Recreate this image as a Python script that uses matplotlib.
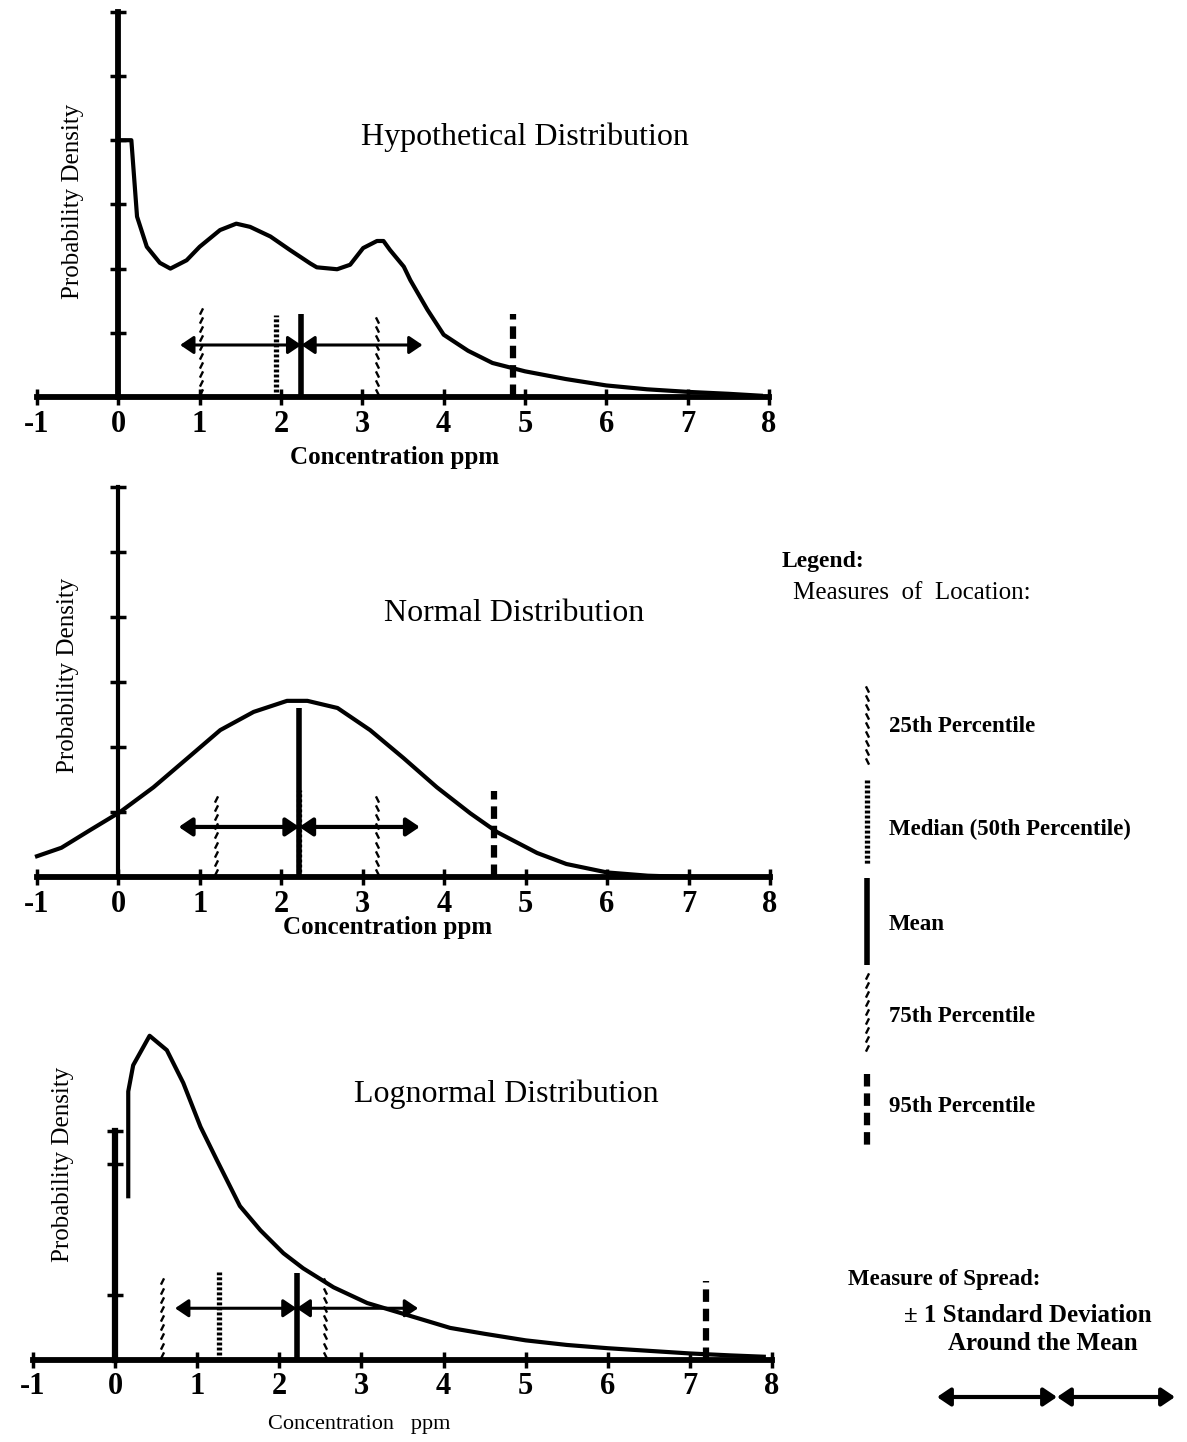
import numpy as np
import matplotlib
matplotlib.use("Agg")
from matplotlib import pyplot as plt

plt.rcParams['font.family'] = ['Liberation Serif', 'DejaVu Serif']

W = 1187
H = 1442

tick_vals = [-1, 0, 1, 2, 3, 4, 5, 6, 7, 8]

# hypothetical distribution
hyp_x = [0.04, 0.16, 0.23, 0.35, 0.51, 0.64, 0.84, 1.0, 1.25, 1.45, 1.62, 1.87, 2.11, 2.36, 2.44,
         2.69, 2.85, 3.01, 3.18, 3.26, 3.34, 3.51, 3.59, 3.8, 4.0, 4.3, 4.6, 5.0, 5.5, 6.0, 6.5,
         7.0, 7.5, 7.9]
hyp_y = [4.0, 4.0, 2.81, 2.34, 2.09, 2.0, 2.13, 2.34, 2.6, 2.7, 2.65, 2.5, 2.29, 2.08, 2.02,
         1.99, 2.06, 2.32, 2.43, 2.43, 2.29, 2.03, 1.82, 1.36, 0.97, 0.72, 0.53, 0.4, 0.28, 0.18,
         0.12, 0.08, 0.05, 0.02]
# 25th, median, mean, 75th, 95th
hyp_marks = [1.02, 1.94, 2.25, 3.18, 4.85]
hyp_heights = [1.39, 1.28, 1.3, 1.3, 1.3]
hyp_sd = 1.49

# normal distribution
norm_x = [-1.0, -0.7, -0.35, 0.02, 0.43, 0.85, 1.25, 1.66, 2.07, 2.32, 2.69, 3.09, 3.5, 3.91,
          4.32, 4.65, 5.14, 5.5, 6.0, 6.5, 7.0]
norm_y = [0.32, 0.45, 0.72, 1.0, 1.38, 1.83, 2.26, 2.54, 2.71, 2.71, 2.6, 2.26, 1.83, 1.38,
          0.98, 0.69, 0.37, 0.2, 0.07, 0.02, 0.0]
norm_marks = [1.2, 2.22, 2.22, 3.18, 4.61]
norm_heights = [1.34, 1.34, 2.6, 1.34, 1.32]
norm_sd = 1.48

# lognormal distribution
log_x = [0.16, 0.16, 0.22, 0.42, 0.63, 0.83, 1.04, 1.24, 1.52, 1.77, 2.05, 2.29, 2.66, 3.07,
         3.47, 4.08, 4.5, 5.0, 5.5, 6.0, 6.5, 7.0, 7.5, 7.9]
log_y = [2.5, 4.1, 4.5, 4.95, 4.73, 4.23, 3.56, 3.05, 2.35, 1.98, 1.63, 1.4, 1.11, 0.87,
         0.72, 0.49, 0.4, 0.3, 0.23, 0.18, 0.14, 0.1, 0.07, 0.05]
log_marks = [0.57, 1.26, 2.21, 2.56, 7.2]
log_heights = [1.33, 1.35, 1.33, 1.25, 1.2]
log_sd = 1.48

legend_labels = ['25th Percentile', 'Median (50th Percentile)', 'Mean',
                 '75th Percentile', '95th Percentile']


def place(xm1, x8, y0, yu, ylo, yhi, xlo=-1.45, xhi=8.45):
    ux = (x8 - xm1) / 9.0
    left = xm1 + (xlo + 1) * ux
    right = xm1 + (xhi + 1) * ux
    top = y0 - yhi * yu
    bottom = y0 - ylo * yu
    return [left / W, 1 - bottom / H, (right - left) / W, (bottom - top) / H], (xlo, xhi), (ylo, yhi)


def slanted(ax, x, h, lean, step=0.14, size=4.5, lw=1.7):
    pos = np.arange(0.08, h, step)
    mk = [(-0.5 * lean, -1), (0.5 * lean, 1)]
    ax.plot(np.full(len(pos), x), pos, ls='none', marker=mk, ms=size, mew=lw, color='black')


def draw_mark(ax, kind, x, h):
    if kind == 0:
        slanted(ax, x, h, 1)
    elif kind == 1:
        ax.plot([x, x], [0, h], color='black', lw=3.8, ls=(0, (0.55, 0.4)), solid_capstyle='butt')
    elif kind == 2:
        ax.plot([x, x], [0, h], color='black', lw=4, solid_capstyle='butt')
    elif kind == 3:
        slanted(ax, x, h, -1)
    else:
        ax.plot([x, x], [0, h], color='black', lw=4.5, ls=(0, (2.0, 1.1)), solid_capstyle='butt')


def spread_arrow(ax, mean, sd, y, lw=2.2):
    props = dict(arrowstyle='<|-|>,head_length=0.4,head_width=0.27', color='black', lw=lw,
                 shrinkA=0, shrinkB=0, mutation_scale=20)
    ax.annotate('', xy=(mean - sd, y), xytext=(mean, y), arrowprops=props)
    ax.annotate('', xy=(mean + sd, y), xytext=(mean, y), arrowprops=props)


def panel(rect, xl, yl, cx, cy, marks, heights, sd, arrow_y, ytop, yticks, left_lw, arrow_lw):
    ax = fig.add_axes(rect)
    ax.patch.set_visible(False)
    ax.set_xlim(*xl)
    ax.set_ylim(*yl)
    for s in ['top', 'right']:
        ax.spines[s].set_visible(False)
    ax.spines['bottom'].set_position(('data', 0))
    ax.spines['left'].set_position(('data', 0))
    ax.spines['bottom'].set_bounds(-1, 8)
    ax.spines['left'].set_bounds(0, ytop)
    ax.spines['bottom'].set_linewidth(4.2)
    ax.spines['left'].set_linewidth(left_lw)
    ax.set_xticks(tick_vals)
    ax.set_xticklabels([str(t) for t in tick_vals], fontweight='bold')
    ax.set_yticks(yticks)
    ax.set_yticklabels([])
    ax.tick_params(axis='x', direction='inout', length=12, width=2.5, labelsize=22, pad=3)
    ax.tick_params(axis='y', direction='inout', length=12, width=2.5)
    ax.plot(cx, cy, color='black', lw=3, solid_joinstyle='round', clip_on=False)
    for k in range(5):
        draw_mark(ax, k, marks[k], heights[k])
    spread_arrow(ax, marks[2], sd, arrow_y, arrow_lw)
    return ax


fig = plt.figure(figsize=(W / 100, H / 100), dpi=100)

# top panel
r, xl, yl = place(37, 769, 397, 64.2, -0.35, 6.1)
ax1 = panel(r, xl, yl, hyp_x, hyp_y, hyp_marks, hyp_heights, hyp_sd, 0.81, 6, [1, 2, 3, 4, 5, 6], 4.2, 2.2)
ax1.text(5.0, 4.05, 'Hypothetical Distribution', fontsize=23, ha='center', va='center')
ax1.text(-0.56, 3.04, 'Probability Density', fontsize=18, rotation=90, ha='center', va='center')
ax1.text(3.4, -0.95, 'Concentration ppm', fontsize=18, fontweight='bold', ha='center', va='center')

# middle panel
r, xl, yl = place(37, 770, 877, 65, -0.35, 6.1)
ax2 = panel(r, xl, yl, norm_x, norm_y, norm_marks, norm_heights, norm_sd, 0.77, 6, [1, 2, 3, 4, 5, 6], 3.0, 3.0)
ax2.text(4.86, 4.05, 'Normal Distribution', fontsize=23, ha='center', va='center')
ax2.text(-0.62, 3.1, 'Probability Density', fontsize=18, rotation=90, ha='center', va='center')
ax2.text(3.3, -0.78, 'Concentration ppm', fontsize=18, fontweight='bold', ha='center', va='center')

# bottom panel
r, xl, yl = place(33, 772, 1360, 65.5, -0.35, 5.2)
ax3 = panel(r, xl, yl, log_x, log_y, log_marks, log_heights, log_sd, 0.79, 3.5, [1, 3, 3.5], 4.5, 2.2)
ax3.text(4.77, 4.05, 'Lognormal Distribution', fontsize=23, ha='center', va='center')
ax3.text(-0.64, 2.98, 'Probability Density', fontsize=18, rotation=90, ha='center', va='center')
ax3.text(2.97, -0.98, 'Concentration   ppm', fontsize=16, ha='center', va='center')

# legend, drawn in pixel coordinates
lg = fig.add_axes([0, 0, 1, 1])
lg.patch.set_visible(False)
lg.set_xlim(0, W)
lg.set_ylim(H, 0)
lg.axis('off')
lg.text(782, 562, 'Legend:', fontsize=17, fontweight='bold', ha='left', va='center')
lg.text(793, 593, 'Measures  of  Location:', fontsize=18, ha='left', va='center')
seg_top = [684, 780, 878, 971, 1074]
seg_bot = [770, 865, 965, 1057, 1148]
txt_y = [727, 829, 925, 1017, 1107]
for k in range(5):
    x = 867
    if k in (0, 3):
        pos = np.arange(seg_top[k] + 5, seg_bot[k], 9)
        lean = 1 if k == 0 else -1
        lg.plot(np.full(len(pos), x), pos, ls='none', marker=[(-0.5 * lean, 1), (0.5 * lean, -1)],
                ms=4.5, mew=1.7, color='black')
    elif k == 1:
        lg.plot([x, x], [seg_top[k], seg_bot[k]], color='black', lw=3.8, ls=(0, (0.55, 0.4)))
    elif k == 2:
        lg.plot([x, x], [seg_top[k], seg_bot[k]], color='black', lw=4, solid_capstyle='butt')
    else:
        lg.plot([x, x], [seg_top[k], seg_bot[k]], color='black', lw=4.5, ls=(0, (2.0, 1.1)))
    lg.text(889, txt_y[k], legend_labels[k], fontsize=16.5, fontweight='bold', ha='left', va='center')

lg.text(848, 1280, 'Measure of Spread:', fontsize=16.5, fontweight='bold', ha='left', va='center')
lg.text(1028, 1315, '\u00b1 1 Standard Deviation', fontsize=18, fontweight='bold', ha='center', va='center')
lg.text(1043, 1344, 'Around the Mean', fontsize=18, fontweight='bold', ha='center', va='center')
props = dict(arrowstyle='<|-|>,head_length=0.4,head_width=0.27', color='black', lw=3,
             shrinkA=0, shrinkB=0, mutation_scale=20)
lg.annotate('', xy=(937, 1397), xytext=(1057, 1397), arrowprops=props)
lg.annotate('', xy=(1175, 1397), xytext=(1057, 1397), arrowprops=props)

fig.savefig('out.png', dpi=100)
